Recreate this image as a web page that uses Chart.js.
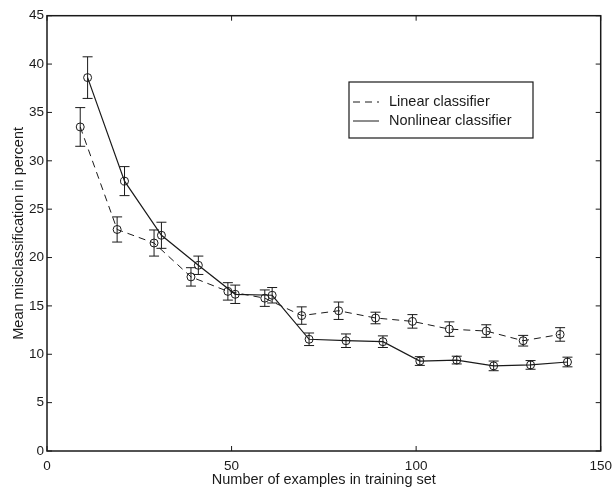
<!DOCTYPE html>
<html>
<head>
<meta charset="utf-8">
<script src="https://cdn.jsdelivr.net/npm/chart.js@4"></script>
<style>
  html, body { margin: 0; padding: 0; background: #fff; }
  #wrap { width: 613px; height: 489px; }
</style>
</head>
<body>
<div id="wrap"><canvas id="chart" width="613" height="489"></canvas></div>
<script>
// データ
const linearX = [9, 19, 29, 39, 49, 59, 69, 79, 89, 99, 109, 119, 129, 139];
const linearMean = [33.5, 22.9, 21.5, 18.0, 16.5, 15.8, 14.0, 14.5, 13.75, 13.4, 12.6, 12.4, 11.4, 12.05];
const linearErr = [2.0, 1.3, 1.35, 0.95, 0.9, 0.85, 0.9, 0.9, 0.6, 0.7, 0.75, 0.65, 0.55, 0.7];

const nonlinearX = [11, 21, 31, 41, 51, 61, 71, 81, 91, 101, 111, 121, 131, 141];
const nonlinearMean = [38.6, 27.9, 22.3, 19.2, 16.2, 16.1, 11.55, 11.4, 11.3, 9.3, 9.4, 8.8, 8.9, 9.2];
const nonlinearErr = [2.15, 1.5, 1.35, 0.95, 0.95, 0.8, 0.65, 0.7, 0.6, 0.45, 0.4, 0.5, 0.45, 0.5];

const xTicks = [0, 50, 100, 150];
const yTicks = [0, 5, 10, 15, 20, 25, 30, 35, 40, 45];

const FONT = "'Liberation Sans', Arial, Helvetica, sans-serif";
const INK = "#1a1a1a";

function toPoints(xs, ys) {
  return xs.map((x, i) => ({ x: x, y: ys[i] }));
}

// エラーバー・枠・目盛・凡例を描くプラグイン
const framePlugin = {
  id: "frame",
  afterDatasetsDraw(chart) {
    const { ctx, chartArea: a, scales } = chart;
    const xs = scales.x, ys = scales.y;
    ctx.save();

    // エラーバー
    const sets = [
      { xs: linearX, m: linearMean, e: linearErr },
      { xs: nonlinearX, m: nonlinearMean, e: nonlinearErr },
    ];
    ctx.strokeStyle = INK;
    ctx.lineWidth = 1;
    ctx.setLineDash([]);
    sets.forEach((s) => {
      s.xs.forEach((xv, i) => {
        const px = xs.getPixelForValue(xv);
        const top = ys.getPixelForValue(s.m[i] + s.e[i]);
        const bot = ys.getPixelForValue(s.m[i] - s.e[i]);
        ctx.beginPath();
        ctx.moveTo(px, top); ctx.lineTo(px, bot);
        ctx.moveTo(px - 5, top); ctx.lineTo(px + 5, top);
        ctx.moveTo(px - 5, bot); ctx.lineTo(px + 5, bot);
        ctx.stroke();
      });
    });

    // 枠
    ctx.lineWidth = 1.5;
    ctx.strokeRect(a.left, a.top, a.right - a.left, a.bottom - a.top);

    // 内向きの目盛
    ctx.lineWidth = 1;
    xTicks.forEach((v) => {
      const px = xs.getPixelForValue(v);
      ctx.beginPath();
      ctx.moveTo(px, a.bottom); ctx.lineTo(px, a.bottom - 5);
      ctx.moveTo(px, a.top); ctx.lineTo(px, a.top + 5);
      ctx.stroke();
    });
    yTicks.forEach((v) => {
      const py = ys.getPixelForValue(v);
      ctx.beginPath();
      ctx.moveTo(a.left, py); ctx.lineTo(a.left + 5, py);
      ctx.moveTo(a.right, py); ctx.lineTo(a.right - 5, py);
      ctx.stroke();
    });

    // 凡例
    const bx = 349, by = 82, bw = 184, bh = 56;
    ctx.fillStyle = "#fff";
    ctx.fillRect(bx, by, bw, bh);
    ctx.lineWidth = 1.2;
    ctx.strokeRect(bx, by, bw, bh);
    ctx.lineWidth = 1;
    ctx.font = "14.5px " + FONT;
    ctx.textBaseline = "middle";
    ctx.fillStyle = INK;
    chart.data.datasets.forEach((ds, i) => {
      const ly = by + 20 + i * 19;
      ctx.setLineDash(ds.borderDash || []);
      ctx.beginPath();
      ctx.moveTo(bx + 4, ly); ctx.lineTo(bx + 30, ly);
      ctx.stroke();
      ctx.setLineDash([]);
      ctx.fillText(ds.label, bx + 40, ly);
    });
    ctx.restore();
  },
};

const ctx = document.getElementById("chart").getContext("2d");
new Chart(ctx, {
  type: "line",
  data: {
    datasets: [
      {
        label: "Linear classifier",
        data: toPoints(linearX, linearMean),
        borderColor: INK,
        borderWidth: 1,
        borderDash: [7, 5],
        pointStyle: "circle",
        pointRadius: 4,
        pointBorderWidth: 1,
        pointBorderColor: INK,
        pointBackgroundColor: "rgba(0,0,0,0)",
        tension: 0,
      },
      {
        label: "Nonlinear classifier",
        data: toPoints(nonlinearX, nonlinearMean),
        borderColor: INK,
        borderWidth: 1.2,
        pointStyle: "circle",
        pointRadius: 4,
        pointBorderWidth: 1,
        pointBorderColor: INK,
        pointBackgroundColor: "rgba(0,0,0,0)",
        tension: 0,
      },
    ],
  },
  options: {
    responsive: false,
    animation: false,
    layout: { padding: { left: 0, top: 15.7, right: 12.3, bottom: 0 } },
    plugins: {
      legend: { display: false },
      tooltip: { enabled: false },
    },
    scales: {
      x: {
        type: "linear",
        min: 0,
        max: 150,
        afterBuildTicks: (s) => { s.ticks = xTicks.map((v) => ({ value: v })); },
        afterFit: (s) => {
          s.height = 38;
          s.paddingLeft = 0;
          s.paddingRight = 0;
        },
        grid: { display: false, drawTicks: false, tickLength: 0 },
        border: { display: false },
        ticks: {
          color: INK,
          padding: 7,
          maxRotation: 0,
          font: { family: FONT, size: 13.5 },
        },
        title: {
          display: true,
          text: "Number of examples in training set",
          color: INK,
          padding: { top: 0, bottom: 0 },
          font: { family: FONT, size: 14.5 },
        },
      },
      y: {
        type: "linear",
        min: 0,
        max: 45,
        afterBuildTicks: (s) => { s.ticks = yTicks.map((v) => ({ value: v })); },
        afterFit: (s) => {
          s.width = 47;
          s.paddingTop = 0;
          s.paddingBottom = 0;
        },
        grid: { display: false, drawTicks: false, tickLength: 0 },
        border: { display: false },
        ticks: {
          color: INK,
          padding: 3,
          font: { family: FONT, size: 13.5 },
        },
        title: {
          display: true,
          text: "Mean misclassification in percent",
          color: INK,
          padding: { top: 10, bottom: 0 },
          font: { family: FONT, size: 14.5 },
        },
      },
    },
  },
  plugins: [framePlugin],
});
</script>
</body>
</html>
